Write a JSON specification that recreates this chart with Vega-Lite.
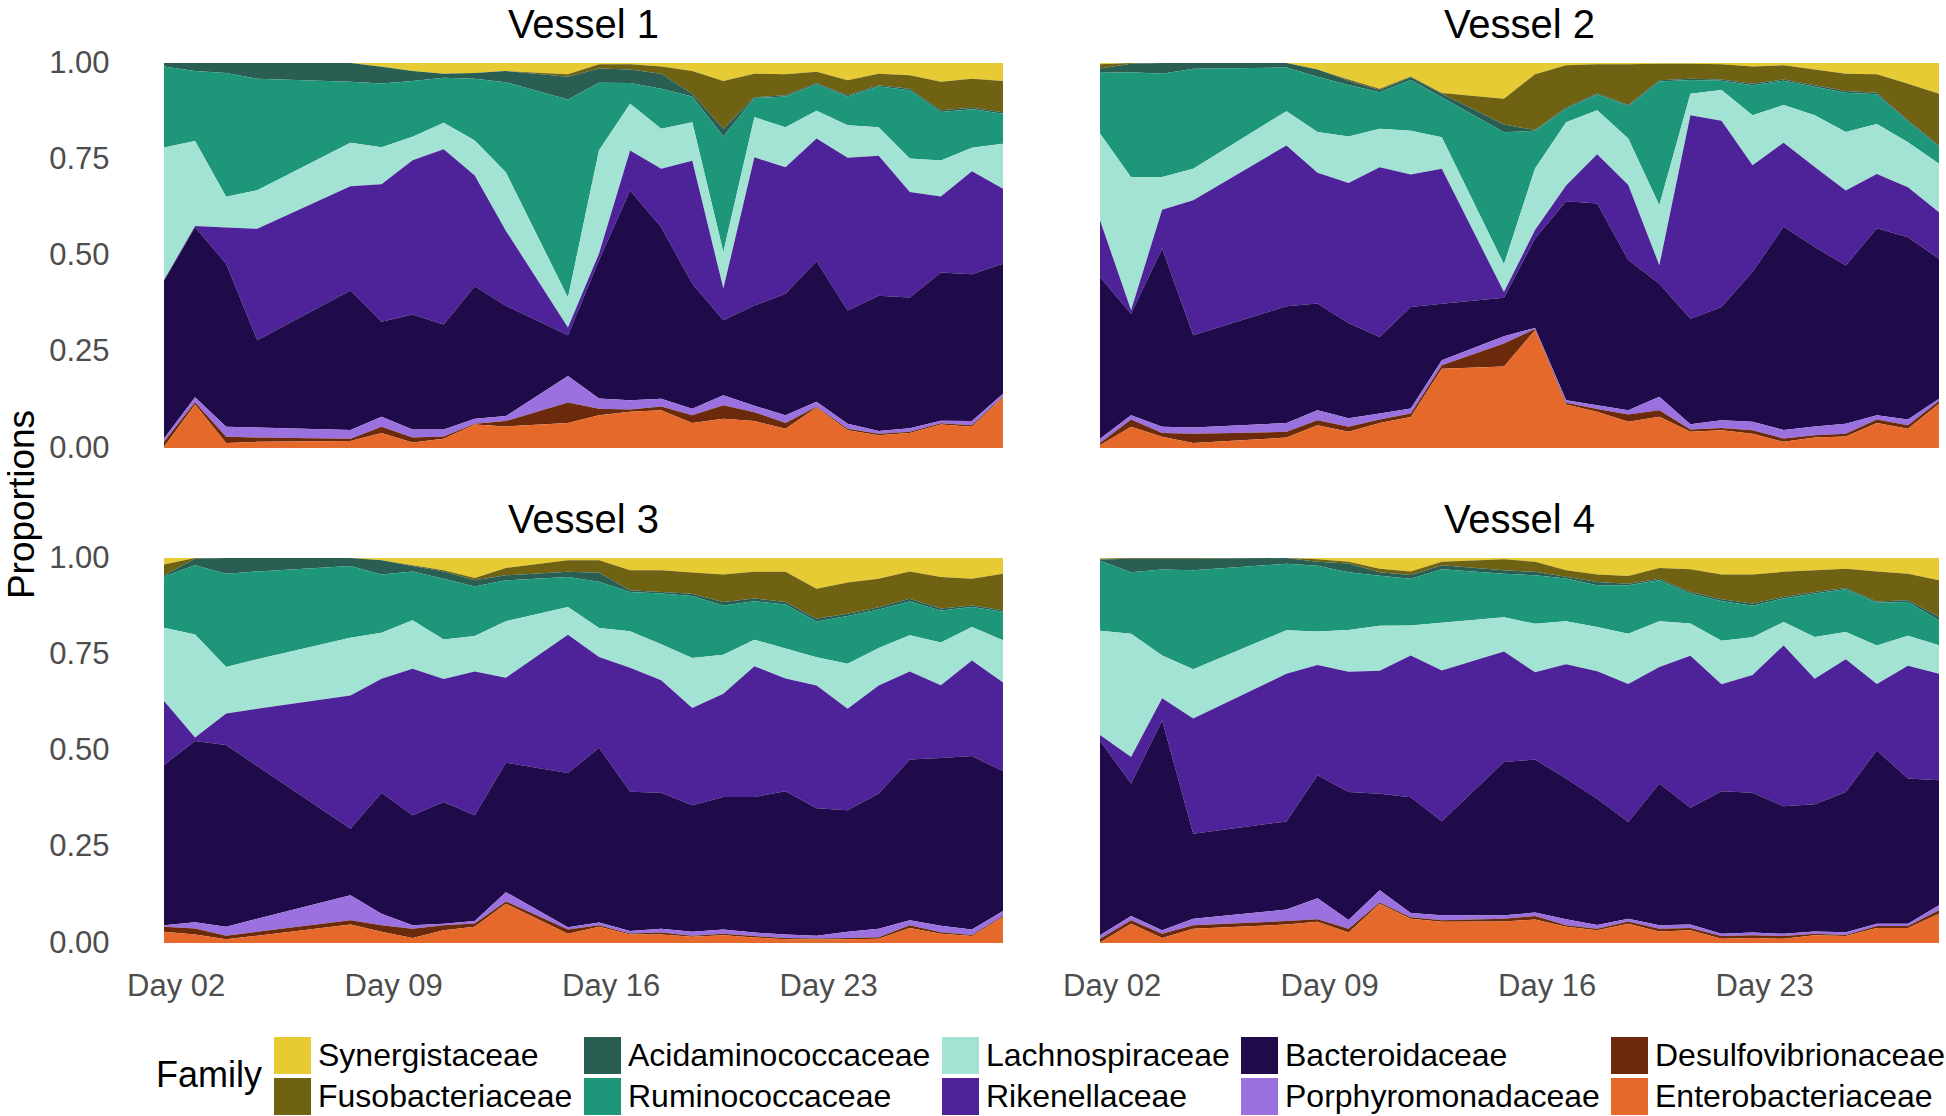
{
"$schema": "https://vega.github.io/schema/vega-lite/v6.json",
"padding": {"left": 3, "top": 5, "right": 0, "bottom": 0},
"background": "white",
"config": {"font": "Liberation Sans", "view": {"stroke": null}},
"data": {"values": [
{"vessel":"Vessel 1","day":1.625,"Synergistaceae":0,"Fusobacteriaceae":0,"Acidaminococcaceae":0.009,"Ruminococcaceae":0.211,"Lachnospiraceae":0.345,"Rikenellaceae":0.002,"Bacteroidaceae":0.410,"Porphyromonadaceae":0.009,"Desulfovibrionaceae":0.013,"Enterobacteriaceae":0.003},
{"vessel":"Vessel 1","day":2.625,"Synergistaceae":0,"Fusobacteriaceae":0,"Acidaminococcaceae":0.021,"Ruminococcaceae":0.182,"Lachnospiraceae":0.221,"Rikenellaceae":0.003,"Bacteroidaceae":0.442,"Porphyromonadaceae":0.013,"Desulfovibrionaceae":0.006,"Enterobacteriaceae":0.113},
{"vessel":"Vessel 1","day":3.625,"Synergistaceae":0,"Fusobacteriaceae":0,"Acidaminococcaceae":0.026,"Ruminococcaceae":0.322,"Lachnospiraceae":0.080,"Rikenellaceae":0.094,"Bacteroidaceae":0.424,"Porphyromonadaceae":0.026,"Desulfovibrionaceae":0.016,"Enterobacteriaceae":0.013},
{"vessel":"Vessel 1","day":4.625,"Synergistaceae":0,"Fusobacteriaceae":0,"Acidaminococcaceae":0.041,"Ruminococcaceae":0.290,"Lachnospiraceae":0.100,"Rikenellaceae":0.290,"Bacteroidaceae":0.227,"Porphyromonadaceae":0.026,"Desulfovibrionaceae":0.011,"Enterobacteriaceae":0.016},
{"vessel":"Vessel 1","day":7.625,"Synergistaceae":0,"Fusobacteriaceae":0,"Acidaminococcaceae":0.049,"Ruminococcaceae":0.158,"Lachnospiraceae":0.113,"Rikenellaceae":0.271,"Bacteroidaceae":0.362,"Porphyromonadaceae":0.023,"Desulfovibrionaceae":0.006,"Enterobacteriaceae":0.018},
{"vessel":"Vessel 1","day":8.625,"Synergistaceae":0.010,"Fusobacteriaceae":0,"Acidaminococcaceae":0.043,"Ruminococcaceae":0.166,"Lachnospiraceae":0.096,"Rikenellaceae":0.357,"Bacteroidaceae":0.247,"Porphyromonadaceae":0.026,"Desulfovibrionaceae":0.016,"Enterobacteriaceae":0.039},
{"vessel":"Vessel 1","day":9.625,"Synergistaceae":0.021,"Fusobacteriaceae":0,"Acidaminococcaceae":0.026,"Ruminococcaceae":0.145,"Lachnospiraceae":0.061,"Rikenellaceae":0.401,"Bacteroidaceae":0.299,"Porphyromonadaceae":0.021,"Desulfovibrionaceae":0.013,"Enterobacteriaceae":0.014},
{"vessel":"Vessel 1","day":10.625,"Synergistaceae":0.028,"Fusobacteriaceae":0,"Acidaminococcaceae":0.010,"Ruminococcaceae":0.117,"Lachnospiraceae":0.069,"Rikenellaceae":0.455,"Bacteroidaceae":0.273,"Porphyromonadaceae":0.018,"Desulfovibrionaceae":0.006,"Enterobacteriaceae":0.024},
{"vessel":"Vessel 1","day":11.625,"Synergistaceae":0.026,"Fusobacteriaceae":0,"Acidaminococcaceae":0.015,"Ruminococcaceae":0.160,"Lachnospiraceae":0.091,"Rikenellaceae":0.288,"Bacteroidaceae":0.344,"Porphyromonadaceae":0.013,"Desulfovibrionaceae":0.002,"Enterobacteriaceae":0.061},
{"vessel":"Vessel 1","day":12.625,"Synergistaceae":0.021,"Fusobacteriaceae":0,"Acidaminococcaceae":0.029,"Ruminococcaceae":0.234,"Lachnospiraceae":0.152,"Rikenellaceae":0.195,"Bacteroidaceae":0.287,"Porphyromonadaceae":0.013,"Desulfovibrionaceae":0.014,"Enterobacteriaceae":0.056},
{"vessel":"Vessel 1","day":14.625,"Synergistaceae":0.029,"Fusobacteriaceae":0.007,"Acidaminococcaceae":0.059,"Ruminococcaceae":0.514,"Lachnospiraceae":0.078,"Rikenellaceae":0.020,"Bacteroidaceae":0.106,"Porphyromonadaceae":0.069,"Desulfovibrionaceae":0.053,"Enterobacteriaceae":0.065},
{"vessel":"Vessel 1","day":15.625,"Synergistaceae":0.003,"Fusobacteriaceae":0.011,"Acidaminococcaceae":0.037,"Ruminococcaceae":0.175,"Lachnospiraceae":0.268,"Rikenellaceae":0.017,"Bacteroidaceae":0.359,"Porphyromonadaceae":0.026,"Desulfovibrionaceae":0.017,"Enterobacteriaceae":0.085},
{"vessel":"Vessel 1","day":16.625,"Synergistaceae":0.003,"Fusobacteriaceae":0.014,"Acidaminococcaceae":0.035,"Ruminococcaceae":0.054,"Lachnospiraceae":0.121,"Rikenellaceae":0.104,"Bacteroidaceae":0.545,"Porphyromonadaceae":0.024,"Desulfovibrionaceae":0.006,"Enterobacteriaceae":0.094},
{"vessel":"Vessel 1","day":17.625,"Synergistaceae":0.009,"Fusobacteriaceae":0.019,"Acidaminococcaceae":0.039,"Ruminococcaceae":0.104,"Lachnospiraceae":0.104,"Rikenellaceae":0.152,"Bacteroidaceae":0.446,"Porphyromonadaceae":0.020,"Desulfovibrionaceae":0.010,"Enterobacteriaceae":0.098},
{"vessel":"Vessel 1","day":18.625,"Synergistaceae":0.021,"Fusobacteriaceae":0.059,"Acidaminococcaceae":0.007,"Ruminococcaceae":0.067,"Lachnospiraceae":0.100,"Rikenellaceae":0.320,"Bacteroidaceae":0.325,"Porphyromonadaceae":0.017,"Desulfovibrionaceae":0.020,"Enterobacteriaceae":0.065},
{"vessel":"Vessel 1","day":19.625,"Synergistaceae":0.047,"Fusobacteriaceae":0.124,"Acidaminococcaceae":0.020,"Ruminococcaceae":0.300,"Lachnospiraceae":0.095,"Rikenellaceae":0.082,"Bacteroidaceae":0.195,"Porphyromonadaceae":0.026,"Desulfovibrionaceae":0.035,"Enterobacteriaceae":0.076},
{"vessel":"Vessel 1","day":20.625,"Synergistaceae":0.028,"Fusobacteriaceae":0.061,"Acidaminococcaceae":0.002,"Ruminococcaceae":0.050,"Lachnospiraceae":0.104,"Rikenellaceae":0.385,"Bacteroidaceae":0.260,"Porphyromonadaceae":0.017,"Desulfovibrionaceae":0.023,"Enterobacteriaceae":0.070},
{"vessel":"Vessel 1","day":21.625,"Synergistaceae":0.029,"Fusobacteriaceae":0.055,"Acidaminococcaceae":0.003,"Ruminococcaceae":0.080,"Lachnospiraceae":0.104,"Rikenellaceae":0.329,"Bacteroidaceae":0.316,"Porphyromonadaceae":0.020,"Desulfovibrionaceae":0.015,"Enterobacteriaceae":0.050},
{"vessel":"Vessel 1","day":22.625,"Synergistaceae":0.023,"Fusobacteriaceae":0.029,"Acidaminococcaceae":0.003,"Ruminococcaceae":0.069,"Lachnospiraceae":0.072,"Rikenellaceae":0.318,"Bacteroidaceae":0.366,"Porphyromonadaceae":0.013,"Desulfovibrionaceae":0.002,"Enterobacteriaceae":0.105},
{"vessel":"Vessel 1","day":23.625,"Synergistaceae":0.045,"Fusobacteriaceae":0.039,"Acidaminococcaceae":0.003,"Ruminococcaceae":0.075,"Lachnospiraceae":0.084,"Rikenellaceae":0.397,"Bacteroidaceae":0.294,"Porphyromonadaceae":0.013,"Desulfovibrionaceae":0.004,"Enterobacteriaceae":0.046},
{"vessel":"Vessel 1","day":24.625,"Synergistaceae":0.028,"Fusobacteriaceae":0.030,"Acidaminococcaceae":0.003,"Ruminococcaceae":0.106,"Lachnospiraceae":0.074,"Rikenellaceae":0.364,"Bacteroidaceae":0.352,"Porphyromonadaceae":0.007,"Desulfovibrionaceae":0.004,"Enterobacteriaceae":0.033},
{"vessel":"Vessel 1","day":25.625,"Synergistaceae":0.032,"Fusobacteriaceae":0.035,"Acidaminococcaceae":0.004,"Ruminococcaceae":0.177,"Lachnospiraceae":0.087,"Rikenellaceae":0.274,"Bacteroidaceae":0.340,"Porphyromonadaceae":0.009,"Desulfovibrionaceae":0.003,"Enterobacteriaceae":0.039},
{"vessel":"Vessel 1","day":26.625,"Synergistaceae":0.049,"Fusobacteriaceae":0.074,"Acidaminococcaceae":0.004,"Ruminococcaceae":0.126,"Lachnospiraceae":0.094,"Rikenellaceae":0.197,"Bacteroidaceae":0.385,"Porphyromonadaceae":0.007,"Desulfovibrionaceae":0.003,"Enterobacteriaceae":0.061},
{"vessel":"Vessel 1","day":27.625,"Synergistaceae":0.041,"Fusobacteriaceae":0.075,"Acidaminococcaceae":0.004,"Ruminococcaceae":0.100,"Lachnospiraceae":0.061,"Rikenellaceae":0.268,"Bacteroidaceae":0.381,"Porphyromonadaceae":0.011,"Desulfovibrionaceae":0.004,"Enterobacteriaceae":0.055},
{"vessel":"Vessel 1","day":28.625,"Synergistaceae":0.047,"Fusobacteriaceae":0.081,"Acidaminococcaceae":0.004,"Ruminococcaceae":0.078,"Lachnospiraceae":0.117,"Rikenellaceae":0.195,"Bacteroidaceae":0.338,"Porphyromonadaceae":0.007,"Desulfovibrionaceae":0.002,"Enterobacteriaceae":0.132},
{"vessel":"Vessel 2","day":1.625,"Synergistaceae":0.003,"Fusobacteriaceae":0.011,"Acidaminococcaceae":0.011,"Ruminococcaceae":0.158,"Lachnospiraceae":0.225,"Rikenellaceae":0.147,"Bacteroidaceae":0.420,"Porphyromonadaceae":0.011,"Desulfovibrionaceae":0.006,"Enterobacteriaceae":0.007},
{"vessel":"Vessel 2","day":2.625,"Synergistaceae":0,"Fusobacteriaceae":0.002,"Acidaminococcaceae":0.022,"Ruminococcaceae":0.273,"Lachnospiraceae":0.346,"Rikenellaceae":0.009,"Bacteroidaceae":0.264,"Porphyromonadaceae":0.011,"Desulfovibrionaceae":0.019,"Enterobacteriaceae":0.055},
{"vessel":"Vessel 2","day":3.625,"Synergistaceae":0,"Fusobacteriaceae":0,"Acidaminococcaceae":0.028,"Ruminococcaceae":0.268,"Lachnospiraceae":0.085,"Rikenellaceae":0.101,"Bacteroidaceae":0.463,"Porphyromonadaceae":0.016,"Desulfovibrionaceae":0.010,"Enterobacteriaceae":0.029},
{"vessel":"Vessel 2","day":4.625,"Synergistaceae":0,"Fusobacteriaceae":0,"Acidaminococcaceae":0.015,"Ruminococcaceae":0.260,"Lachnospiraceae":0.082,"Rikenellaceae":0.351,"Bacteroidaceae":0.240,"Porphyromonadaceae":0.016,"Desulfovibrionaceae":0.024,"Enterobacteriaceae":0.013},
{"vessel":"Vessel 2","day":7.625,"Synergistaceae":0,"Fusobacteriaceae":0,"Acidaminococcaceae":0.012,"Ruminococcaceae":0.113,"Lachnospiraceae":0.089,"Rikenellaceae":0.418,"Bacteroidaceae":0.303,"Porphyromonadaceae":0.023,"Desulfovibrionaceae":0.015,"Enterobacteriaceae":0.027},
{"vessel":"Vessel 2","day":8.625,"Synergistaceae":0.017,"Fusobacteriaceae":0,"Acidaminococcaceae":0.019,"Ruminococcaceae":0.143,"Lachnospiraceae":0.106,"Rikenellaceae":0.339,"Bacteroidaceae":0.277,"Porphyromonadaceae":0.026,"Desulfovibrionaceae":0.013,"Enterobacteriaceae":0.059},
{"vessel":"Vessel 2","day":9.625,"Synergistaceae":0.043,"Fusobacteriaceae":0.003,"Acidaminococcaceae":0.011,"Ruminococcaceae":0.134,"Lachnospiraceae":0.121,"Rikenellaceae":0.364,"Bacteroidaceae":0.247,"Porphyromonadaceae":0.022,"Desulfovibrionaceae":0.013,"Enterobacteriaceae":0.042},
{"vessel":"Vessel 2","day":10.625,"Synergistaceae":0.067,"Fusobacteriaceae":0.003,"Acidaminococcaceae":0.006,"Ruminococcaceae":0.095,"Lachnospiraceae":0.100,"Rikenellaceae":0.442,"Bacteroidaceae":0.199,"Porphyromonadaceae":0.016,"Desulfovibrionaceae":0.009,"Enterobacteriaceae":0.065},
{"vessel":"Vessel 2","day":11.625,"Synergistaceae":0.035,"Fusobacteriaceae":0.002,"Acidaminococcaceae":0.007,"Ruminococcaceae":0.132,"Lachnospiraceae":0.114,"Rikenellaceae":0.345,"Bacteroidaceae":0.264,"Porphyromonadaceae":0.013,"Desulfovibrionaceae":0.009,"Enterobacteriaceae":0.081},
{"vessel":"Vessel 2","day":12.625,"Synergistaceae":0.078,"Fusobacteriaceae":0.002,"Acidaminococcaceae":0.009,"Ruminococcaceae":0.104,"Lachnospiraceae":0.082,"Rikenellaceae":0.351,"Bacteroidaceae":0.147,"Porphyromonadaceae":0.013,"Desulfovibrionaceae":0.009,"Enterobacteriaceae":0.206},
{"vessel":"Vessel 2","day":14.625,"Synergistaceae":0.093,"Fusobacteriaceae":0.067,"Acidaminococcaceae":0.020,"Ruminococcaceae":0.344,"Lachnospiraceae":0.072,"Rikenellaceae":0.015,"Bacteroidaceae":0.100,"Porphyromonadaceae":0.019,"Desulfovibrionaceae":0.060,"Enterobacteriaceae":0.212},
{"vessel":"Vessel 2","day":15.625,"Synergistaceae":0.029,"Fusobacteriaceae":0.145,"Acidaminococcaceae":0.002,"Ruminococcaceae":0.098,"Lachnospiraceae":0.160,"Rikenellaceae":0.022,"Bacteroidaceae":0.232,"Porphyromonadaceae":0.003,"Desulfovibrionaceae":0.003,"Enterobacteriaceae":0.306},
{"vessel":"Vessel 2","day":16.625,"Synergistaceae":0.006,"Fusobacteriaceae":0.110,"Acidaminococcaceae":0.003,"Ruminococcaceae":0.035,"Lachnospiraceae":0.165,"Rikenellaceae":0.041,"Bacteroidaceae":0.518,"Porphyromonadaceae":0.006,"Desulfovibrionaceae":0.005,"Enterobacteriaceae":0.113},
{"vessel":"Vessel 2","day":17.625,"Synergistaceae":0.003,"Fusobacteriaceae":0.076,"Acidaminococcaceae":0.003,"Ruminococcaceae":0.041,"Lachnospiraceae":0.114,"Rikenellaceae":0.128,"Bacteroidaceae":0.524,"Porphyromonadaceae":0.010,"Desulfovibrionaceae":0.007,"Enterobacteriaceae":0.094},
{"vessel":"Vessel 2","day":18.625,"Synergistaceae":0.003,"Fusobacteriaceae":0.106,"Acidaminococcaceae":0.003,"Ruminococcaceae":0.084,"Lachnospiraceae":0.121,"Rikenellaceae":0.195,"Bacteroidaceae":0.390,"Porphyromonadaceae":0.011,"Desulfovibrionaceae":0.019,"Enterobacteriaceae":0.068},
{"vessel":"Vessel 2","day":19.625,"Synergistaceae":0.002,"Fusobacteriaceae":0.043,"Acidaminococcaceae":0.003,"Ruminococcaceae":0.322,"Lachnospiraceae":0.156,"Rikenellaceae":0.048,"Bacteroidaceae":0.294,"Porphyromonadaceae":0.035,"Desulfovibrionaceae":0.017,"Enterobacteriaceae":0.081},
{"vessel":"Vessel 2","day":20.625,"Synergistaceae":0.002,"Fusobacteriaceae":0.039,"Acidaminococcaceae":0.003,"Ruminococcaceae":0.036,"Lachnospiraceae":0.056,"Rikenellaceae":0.528,"Bacteroidaceae":0.274,"Porphyromonadaceae":0.014,"Desulfovibrionaceae":0.006,"Enterobacteriaceae":0.042},
{"vessel":"Vessel 2","day":21.625,"Synergistaceae":0.003,"Fusobacteriaceae":0.040,"Acidaminococcaceae":0.003,"Ruminococcaceae":0.024,"Lachnospiraceae":0.080,"Rikenellaceae":0.483,"Bacteroidaceae":0.294,"Porphyromonadaceae":0.020,"Desulfovibrionaceae":0.006,"Enterobacteriaceae":0.046},
{"vessel":"Vessel 2","day":22.625,"Synergistaceae":0.009,"Fusobacteriaceae":0.045,"Acidaminococcaceae":0.004,"Ruminococcaceae":0.078,"Lachnospiraceae":0.130,"Rikenellaceae":0.277,"Bacteroidaceae":0.390,"Porphyromonadaceae":0.022,"Desulfovibrionaceae":0.009,"Enterobacteriaceae":0.037},
{"vessel":"Vessel 2","day":23.625,"Synergistaceae":0.006,"Fusobacteriaceae":0.037,"Acidaminococcaceae":0.003,"Ruminococcaceae":0.063,"Lachnospiraceae":0.098,"Rikenellaceae":0.218,"Bacteroidaceae":0.528,"Porphyromonadaceae":0.022,"Desulfovibrionaceae":0.009,"Enterobacteriaceae":0.016},
{"vessel":"Vessel 2","day":24.625,"Synergistaceae":0.017,"Fusobacteriaceae":0.041,"Acidaminococcaceae":0.004,"Ruminococcaceae":0.074,"Lachnospiraceae":0.134,"Rikenellaceae":0.208,"Bacteroidaceae":0.466,"Porphyromonadaceae":0.023,"Desulfovibrionaceae":0.006,"Enterobacteriaceae":0.027},
{"vessel":"Vessel 2","day":25.625,"Synergistaceae":0.028,"Fusobacteriaceae":0.045,"Acidaminococcaceae":0.004,"Ruminococcaceae":0.102,"Lachnospiraceae":0.152,"Rikenellaceae":0.195,"Bacteroidaceae":0.411,"Porphyromonadaceae":0.026,"Desulfovibrionaceae":0.007,"Enterobacteriaceae":0.030},
{"vessel":"Vessel 2","day":26.625,"Synergistaceae":0.029,"Fusobacteriaceae":0.048,"Acidaminococcaceae":0.004,"Ruminococcaceae":0.077,"Lachnospiraceae":0.130,"Rikenellaceae":0.141,"Bacteroidaceae":0.485,"Porphyromonadaceae":0.011,"Desulfovibrionaceae":0.009,"Enterobacteriaceae":0.065},
{"vessel":"Vessel 2","day":27.625,"Synergistaceae":0.054,"Fusobacteriaceae":0.095,"Acidaminococcaceae":0.003,"Ruminococcaceae":0.054,"Lachnospiraceae":0.117,"Rikenellaceae":0.130,"Bacteroidaceae":0.474,"Porphyromonadaceae":0.015,"Desulfovibrionaceae":0.009,"Enterobacteriaceae":0.050},
{"vessel":"Vessel 2","day":28.625,"Synergistaceae":0.080,"Fusobacteriaceae":0.134,"Acidaminococcaceae":0.003,"Ruminococcaceae":0.045,"Lachnospiraceae":0.126,"Rikenellaceae":0.121,"Bacteroidaceae":0.364,"Porphyromonadaceae":0.006,"Desulfovibrionaceae":0.007,"Enterobacteriaceae":0.115},
{"vessel":"Vessel 3","day":1.625,"Synergistaceae":0.017,"Fusobacteriaceae":0.028,"Acidaminococcaceae":0.003,"Ruminococcaceae":0.133,"Lachnospiraceae":0.190,"Rikenellaceae":0.166,"Bacteroidaceae":0.416,"Porphyromonadaceae":0.004,"Desulfovibrionaceae":0.013,"Enterobacteriaceae":0.029},
{"vessel":"Vessel 3","day":2.625,"Synergistaceae":0,"Fusobacteriaceae":0.002,"Acidaminococcaceae":0.017,"Ruminococcaceae":0.180,"Lachnospiraceae":0.268,"Rikenellaceae":0.009,"Bacteroidaceae":0.471,"Porphyromonadaceae":0.016,"Desulfovibrionaceae":0.016,"Enterobacteriaceae":0.022},
{"vessel":"Vessel 3","day":3.625,"Synergistaceae":0,"Fusobacteriaceae":0,"Acidaminococcaceae":0.041,"Ruminococcaceae":0.242,"Lachnospiraceae":0.121,"Rikenellaceae":0.082,"Bacteroidaceae":0.472,"Porphyromonadaceae":0.023,"Desulfovibrionaceae":0.009,"Enterobacteriaceae":0.010},
{"vessel":"Vessel 3","day":4.625,"Synergistaceae":0,"Fusobacteriaceae":0,"Acidaminococcaceae":0.035,"Ruminococcaceae":0.228,"Lachnospiraceae":0.129,"Rikenellaceae":0.149,"Bacteroidaceae":0.397,"Porphyromonadaceae":0.034,"Desulfovibrionaceae":0.010,"Enterobacteriaceae":0.019},
{"vessel":"Vessel 3","day":7.625,"Synergistaceae":0,"Fusobacteriaceae":0,"Acidaminococcaceae":0.021,"Ruminococcaceae":0.186,"Lachnospiraceae":0.150,"Rikenellaceae":0.346,"Bacteroidaceae":0.173,"Porphyromonadaceae":0.065,"Desulfovibrionaceae":0.011,"Enterobacteriaceae":0.048},
{"vessel":"Vessel 3","day":8.625,"Synergistaceae":0.006,"Fusobacteriaceae":0,"Acidaminococcaceae":0.037,"Ruminococcaceae":0.151,"Lachnospiraceae":0.119,"Rikenellaceae":0.296,"Bacteroidaceae":0.314,"Porphyromonadaceae":0.030,"Desulfovibrionaceae":0.017,"Enterobacteriaceae":0.029},
{"vessel":"Vessel 3","day":9.625,"Synergistaceae":0.019,"Fusobacteriaceae":0.002,"Acidaminococcaceae":0.014,"Ruminococcaceae":0.127,"Lachnospiraceae":0.126,"Rikenellaceae":0.381,"Bacteroidaceae":0.286,"Porphyromonadaceae":0.009,"Desulfovibrionaceae":0.024,"Enterobacteriaceae":0.013},
{"vessel":"Vessel 3","day":10.625,"Synergistaceae":0.032,"Fusobacteriaceae":0.003,"Acidaminococcaceae":0.019,"Ruminococcaceae":0.158,"Lachnospiraceae":0.102,"Rikenellaceae":0.320,"Bacteroidaceae":0.316,"Porphyromonadaceae":0.004,"Desulfovibrionaceae":0.013,"Enterobacteriaceae":0.033},
{"vessel":"Vessel 3","day":11.625,"Synergistaceae":0.052,"Fusobacteriaceae":0.006,"Acidaminococcaceae":0.016,"Ruminococcaceae":0.129,"Lachnospiraceae":0.092,"Rikenellaceae":0.374,"Bacteroidaceae":0.275,"Porphyromonadaceae":0.006,"Desulfovibrionaceae":0.009,"Enterobacteriaceae":0.042},
{"vessel":"Vessel 3","day":12.625,"Synergistaceae":0.026,"Fusobacteriaceae":0.019,"Acidaminococcaceae":0.013,"Ruminococcaceae":0.106,"Lachnospiraceae":0.147,"Rikenellaceae":0.220,"Bacteroidaceae":0.336,"Porphyromonadaceae":0.024,"Desulfovibrionaceae":0.006,"Enterobacteriaceae":0.102},
{"vessel":"Vessel 3","day":14.625,"Synergistaceae":0.006,"Fusobacteriaceae":0.030,"Acidaminococcaceae":0.013,"Ruminococcaceae":0.078,"Lachnospiraceae":0.072,"Rikenellaceae":0.359,"Bacteroidaceae":0.400,"Porphyromonadaceae":0.006,"Desulfovibrionaceae":0.011,"Enterobacteriaceae":0.024},
{"vessel":"Vessel 3","day":15.625,"Synergistaceae":0.006,"Fusobacteriaceae":0.032,"Acidaminococcaceae":0.024,"Ruminococcaceae":0.120,"Lachnospiraceae":0.075,"Rikenellaceae":0.236,"Bacteroidaceae":0.454,"Porphyromonadaceae":0.007,"Desulfovibrionaceae":0.004,"Enterobacteriaceae":0.042},
{"vessel":"Vessel 3","day":16.625,"Synergistaceae":0.032,"Fusobacteriaceae":0.052,"Acidaminococcaceae":0.004,"Ruminococcaceae":0.102,"Lachnospiraceae":0.095,"Rikenellaceae":0.322,"Bacteroidaceae":0.362,"Porphyromonadaceae":0.006,"Desulfovibrionaceae":0.003,"Enterobacteriaceae":0.022},
{"vessel":"Vessel 3","day":17.625,"Synergistaceae":0.032,"Fusobacteriaceae":0.056,"Acidaminococcaceae":0.004,"Ruminococcaceae":0.132,"Lachnospiraceae":0.093,"Rikenellaceae":0.292,"Bacteroidaceae":0.353,"Porphyromonadaceae":0.010,"Desulfovibrionaceae":0.005,"Enterobacteriaceae":0.022},
{"vessel":"Vessel 3","day":18.625,"Synergistaceae":0.038,"Fusobacteriaceae":0.055,"Acidaminococcaceae":0.006,"Ruminococcaceae":0.161,"Lachnospiraceae":0.130,"Rikenellaceae":0.253,"Bacteroidaceae":0.329,"Porphyromonadaceae":0.010,"Desulfovibrionaceae":0.003,"Enterobacteriaceae":0.016},
{"vessel":"Vessel 3","day":19.625,"Synergistaceae":0.043,"Fusobacteriaceae":0.071,"Acidaminococcaceae":0.009,"Ruminococcaceae":0.128,"Lachnospiraceae":0.101,"Rikenellaceae":0.268,"Bacteroidaceae":0.344,"Porphyromonadaceae":0.011,"Desulfovibrionaceae":0.004,"Enterobacteriaceae":0.020},
{"vessel":"Vessel 3","day":20.625,"Synergistaceae":0.036,"Fusobacteriaceae":0.069,"Acidaminococcaceae":0.007,"Ruminococcaceae":0.100,"Lachnospiraceae":0.069,"Rikenellaceae":0.339,"Bacteroidaceae":0.352,"Porphyromonadaceae":0.009,"Desulfovibrionaceae":0.004,"Enterobacteriaceae":0.014},
{"vessel":"Vessel 3","day":21.625,"Synergistaceae":0.036,"Fusobacteriaceae":0.078,"Acidaminococcaceae":0.007,"Ruminococcaceae":0.114,"Lachnospiraceae":0.078,"Rikenellaceae":0.293,"Bacteroidaceae":0.372,"Porphyromonadaceae":0.009,"Desulfovibrionaceae":0.003,"Enterobacteriaceae":0.010},
{"vessel":"Vessel 3","day":22.625,"Synergistaceae":0.080,"Fusobacteriaceae":0.078,"Acidaminococcaceae":0.007,"Ruminococcaceae":0.093,"Lachnospiraceae":0.074,"Rikenellaceae":0.319,"Bacteroidaceae":0.332,"Porphyromonadaceae":0.007,"Desulfovibrionaceae":0.003,"Enterobacteriaceae":0.009},
{"vessel":"Vessel 3","day":23.625,"Synergistaceae":0.064,"Fusobacteriaceae":0.081,"Acidaminococcaceae":0.006,"Ruminococcaceae":0.124,"Lachnospiraceae":0.117,"Rikenellaceae":0.264,"Bacteroidaceae":0.316,"Porphyromonadaceae":0.016,"Desulfovibrionaceae":0.003,"Enterobacteriaceae":0.010},
{"vessel":"Vessel 3","day":24.625,"Synergistaceae":0.054,"Fusobacteriaceae":0.074,"Acidaminococcaceae":0.006,"Ruminococcaceae":0.100,"Lachnospiraceae":0.097,"Rikenellaceae":0.281,"Bacteroidaceae":0.351,"Porphyromonadaceae":0.022,"Desulfovibrionaceae":0.004,"Enterobacteriaceae":0.011},
{"vessel":"Vessel 3","day":25.625,"Synergistaceae":0.035,"Fusobacteriaceae":0.071,"Acidaminococcaceae":0.007,"Ruminococcaceae":0.088,"Lachnospiraceae":0.094,"Rikenellaceae":0.229,"Bacteroidaceae":0.418,"Porphyromonadaceae":0.013,"Desulfovibrionaceae":0.007,"Enterobacteriaceae":0.039},
{"vessel":"Vessel 3","day":26.625,"Synergistaceae":0.049,"Fusobacteriaceae":0.082,"Acidaminococcaceae":0.005,"Ruminococcaceae":0.083,"Lachnospiraceae":0.111,"Rikenellaceae":0.189,"Bacteroidaceae":0.435,"Porphyromonadaceae":0.017,"Desulfovibrionaceae":0.004,"Enterobacteriaceae":0.024},
{"vessel":"Vessel 3","day":27.625,"Synergistaceae":0.054,"Fusobacteriaceae":0.069,"Acidaminococcaceae":0.004,"Ruminococcaceae":0.052,"Lachnospiraceae":0.087,"Rikenellaceae":0.248,"Bacteroidaceae":0.450,"Porphyromonadaceae":0.014,"Desulfovibrionaceae":0.003,"Enterobacteriaceae":0.018},
{"vessel":"Vessel 3","day":28.625,"Synergistaceae":0.041,"Fusobacteriaceae":0.095,"Acidaminococcaceae":0.004,"Ruminococcaceae":0.074,"Lachnospiraceae":0.110,"Rikenellaceae":0.230,"Bacteroidaceae":0.364,"Porphyromonadaceae":0.012,"Desulfovibrionaceae":0.003,"Enterobacteriaceae":0.068},
{"vessel":"Vessel 4","day":1.625,"Synergistaceae":0.002,"Fusobacteriaceae":0.002,"Acidaminococcaceae":0.003,"Ruminococcaceae":0.182,"Lachnospiraceae":0.271,"Rikenellaceae":0.015,"Bacteroidaceae":0.506,"Porphyromonadaceae":0.009,"Desulfovibrionaceae":0.010,"Enterobacteriaceae":0.001},
{"vessel":"Vessel 4","day":2.625,"Synergistaceae":0,"Fusobacteriaceae":0.002,"Acidaminococcaceae":0.035,"Ruminococcaceae":0.160,"Lachnospiraceae":0.320,"Rikenellaceae":0.069,"Bacteroidaceae":0.344,"Porphyromonadaceae":0.011,"Desulfovibrionaceae":0.009,"Enterobacteriaceae":0.050},
{"vessel":"Vessel 4","day":3.625,"Synergistaceae":0,"Fusobacteriaceae":0.002,"Acidaminococcaceae":0.028,"Ruminococcaceae":0.223,"Lachnospiraceae":0.111,"Rikenellaceae":0.058,"Bacteroidaceae":0.545,"Porphyromonadaceae":0.009,"Desulfovibrionaceae":0.011,"Enterobacteriaceae":0.013},
{"vessel":"Vessel 4","day":4.625,"Synergistaceae":0,"Fusobacteriaceae":0.002,"Acidaminococcaceae":0.030,"Ruminococcaceae":0.257,"Lachnospiraceae":0.128,"Rikenellaceae":0.299,"Bacteroidaceae":0.221,"Porphyromonadaceae":0.017,"Desulfovibrionaceae":0.009,"Enterobacteriaceae":0.037},
{"vessel":"Vessel 4","day":7.625,"Synergistaceae":0,"Fusobacteriaceae":0,"Acidaminococcaceae":0.015,"Ruminococcaceae":0.173,"Lachnospiraceae":0.113,"Rikenellaceae":0.384,"Bacteroidaceae":0.229,"Porphyromonadaceae":0.030,"Desulfovibrionaceae":0.009,"Enterobacteriaceae":0.048},
{"vessel":"Vessel 4","day":8.625,"Synergistaceae":0.003,"Fusobacteriaceae":0.007,"Acidaminococcaceae":0.010,"Ruminococcaceae":0.171,"Lachnospiraceae":0.087,"Rikenellaceae":0.286,"Bacteroidaceae":0.320,"Porphyromonadaceae":0.054,"Desulfovibrionaceae":0.007,"Enterobacteriaceae":0.055},
{"vessel":"Vessel 4","day":9.625,"Synergistaceae":0.010,"Fusobacteriaceae":0.004,"Acidaminococcaceae":0.023,"Ruminococcaceae":0.150,"Lachnospiraceae":0.108,"Rikenellaceae":0.312,"Bacteroidaceae":0.332,"Porphyromonadaceae":0.023,"Desulfovibrionaceae":0.010,"Enterobacteriaceae":0.027},
{"vessel":"Vessel 4","day":10.625,"Synergistaceae":0.028,"Fusobacteriaceae":0.009,"Acidaminococcaceae":0.009,"Ruminococcaceae":0.130,"Lachnospiraceae":0.117,"Rikenellaceae":0.320,"Bacteroidaceae":0.251,"Porphyromonadaceae":0.032,"Desulfovibrionaceae":0.003,"Enterobacteriaceae":0.102},
{"vessel":"Vessel 4","day":11.625,"Synergistaceae":0.035,"Fusobacteriaceae":0.009,"Acidaminococcaceae":0.010,"Ruminococcaceae":0.121,"Lachnospiraceae":0.078,"Rikenellaceae":0.368,"Bacteroidaceae":0.300,"Porphyromonadaceae":0.011,"Desulfovibrionaceae":0.004,"Enterobacteriaceae":0.063},
{"vessel":"Vessel 4","day":12.625,"Synergistaceae":0.010,"Fusobacteriaceae":0.009,"Acidaminococcaceae":0.010,"Ruminococcaceae":0.139,"Lachnospiraceae":0.124,"Rikenellaceae":0.392,"Bacteroidaceae":0.244,"Porphyromonadaceae":0.013,"Desulfovibrionaceae":0.004,"Enterobacteriaceae":0.055},
{"vessel":"Vessel 4","day":14.625,"Synergistaceae":0.003,"Fusobacteriaceae":0.029,"Acidaminococcaceae":0.009,"Ruminococcaceae":0.113,"Lachnospiraceae":0.089,"Rikenellaceae":0.287,"Bacteroidaceae":0.398,"Porphyromonadaceae":0.009,"Desulfovibrionaceae":0.007,"Enterobacteriaceae":0.056},
{"vessel":"Vessel 4","day":15.625,"Synergistaceae":0.010,"Fusobacteriaceae":0.026,"Acidaminococcaceae":0.009,"Ruminococcaceae":0.126,"Lachnospiraceae":0.126,"Rikenellaceae":0.227,"Bacteroidaceae":0.398,"Porphyromonadaceae":0.009,"Desulfovibrionaceae":0.009,"Enterobacteriaceae":0.061},
{"vessel":"Vessel 4","day":16.625,"Synergistaceae":0.032,"Fusobacteriaceae":0.017,"Acidaminococcaceae":0.004,"Ruminococcaceae":0.111,"Lachnospiraceae":0.112,"Rikenellaceae":0.297,"Bacteroidaceae":0.365,"Porphyromonadaceae":0.016,"Desulfovibrionaceae":0.004,"Enterobacteriaceae":0.042},
{"vessel":"Vessel 4","day":17.625,"Synergistaceae":0.043,"Fusobacteriaceae":0.019,"Acidaminococcaceae":0.009,"Ruminococcaceae":0.108,"Lachnospiraceae":0.115,"Rikenellaceae":0.331,"Bacteroidaceae":0.327,"Porphyromonadaceae":0.010,"Desulfovibrionaceae":0.004,"Enterobacteriaceae":0.033},
{"vessel":"Vessel 4","day":18.625,"Synergistaceae":0.047,"Fusobacteriaceae":0.020,"Acidaminococcaceae":0.004,"Ruminococcaceae":0.126,"Lachnospiraceae":0.130,"Rikenellaceae":0.359,"Bacteroidaceae":0.251,"Porphyromonadaceae":0.007,"Desulfovibrionaceae":0.006,"Enterobacteriaceae":0.050},
{"vessel":"Vessel 4","day":19.625,"Synergistaceae":0.026,"Fusobacteriaceae":0.028,"Acidaminococcaceae":0.004,"Ruminococcaceae":0.106,"Lachnospiraceae":0.119,"Rikenellaceae":0.303,"Bacteroidaceae":0.368,"Porphyromonadaceae":0.009,"Desulfovibrionaceae":0.007,"Enterobacteriaceae":0.030},
{"vessel":"Vessel 4","day":20.625,"Synergistaceae":0.029,"Fusobacteriaceae":0.059,"Acidaminococcaceae":0.004,"Ruminococcaceae":0.078,"Lachnospiraceae":0.084,"Rikenellaceae":0.395,"Bacteroidaceae":0.303,"Porphyromonadaceae":0.009,"Desulfovibrionaceae":0.006,"Enterobacteriaceae":0.033},
{"vessel":"Vessel 4","day":21.625,"Synergistaceae":0.043,"Fusobacteriaceae":0.064,"Acidaminococcaceae":0.005,"Ruminococcaceae":0.103,"Lachnospiraceae":0.113,"Rikenellaceae":0.278,"Bacteroidaceae":0.370,"Porphyromonadaceae":0.006,"Desulfovibrionaceae":0.007,"Enterobacteriaceae":0.011},
{"vessel":"Vessel 4","day":22.625,"Synergistaceae":0.043,"Fusobacteriaceae":0.075,"Acidaminococcaceae":0.006,"Ruminococcaceae":0.082,"Lachnospiraceae":0.098,"Rikenellaceae":0.306,"Bacteroidaceae":0.363,"Porphyromonadaceae":0.007,"Desulfovibrionaceae":0.007,"Enterobacteriaceae":0.013},
{"vessel":"Vessel 4","day":23.625,"Synergistaceae":0.036,"Fusobacteriaceae":0.065,"Acidaminococcaceae":0.004,"Ruminococcaceae":0.061,"Lachnospiraceae":0.061,"Rikenellaceae":0.418,"Bacteroidaceae":0.331,"Porphyromonadaceae":0.006,"Desulfovibrionaceae":0.007,"Enterobacteriaceae":0.011},
{"vessel":"Vessel 4","day":24.625,"Synergistaceae":0.032,"Fusobacteriaceae":0.056,"Acidaminococcaceae":0.004,"Ruminococcaceae":0.113,"Lachnospiraceae":0.108,"Rikenellaceae":0.326,"Bacteroidaceae":0.330,"Porphyromonadaceae":0.006,"Desulfovibrionaceae":0.004,"Enterobacteriaceae":0.020},
{"vessel":"Vessel 4","day":25.625,"Synergistaceae":0.028,"Fusobacteriaceae":0.050,"Acidaminococcaceae":0.003,"Ruminococcaceae":0.111,"Lachnospiraceae":0.071,"Rikenellaceae":0.345,"Bacteroidaceae":0.364,"Porphyromonadaceae":0.007,"Desulfovibrionaceae":0.003,"Enterobacteriaceae":0.018},
{"vessel":"Vessel 4","day":26.625,"Synergistaceae":0.035,"Fusobacteriaceae":0.078,"Acidaminococcaceae":0.003,"Ruminococcaceae":0.111,"Lachnospiraceae":0.100,"Rikenellaceae":0.173,"Bacteroidaceae":0.450,"Porphyromonadaceae":0.006,"Desulfovibrionaceae":0.005,"Enterobacteriaceae":0.039},
{"vessel":"Vessel 4","day":27.625,"Synergistaceae":0.041,"Fusobacteriaceae":0.069,"Acidaminococcaceae":0.004,"Ruminococcaceae":0.088,"Lachnospiraceae":0.078,"Rikenellaceae":0.293,"Bacteroidaceae":0.377,"Porphyromonadaceae":0.006,"Desulfovibrionaceae":0.005,"Enterobacteriaceae":0.039},
{"vessel":"Vessel 4","day":28.625,"Synergistaceae":0.058,"Fusobacteriaceae":0.095,"Acidaminococcaceae":0.009,"Ruminococcaceae":0.065,"Lachnospiraceae":0.074,"Rikenellaceae":0.277,"Bacteroidaceae":0.325,"Porphyromonadaceae":0.013,"Desulfovibrionaceae":0.009,"Enterobacteriaceae":0.076}
]},
"transform": [
{"fold": ["Synergistaceae","Fusobacteriaceae","Acidaminococcaceae","Ruminococcaceae","Lachnospiraceae","Rikenellaceae","Bacteroidaceae","Porphyromonadaceae","Desulfovibrionaceae","Enterobacteriaceae"], "as": ["Family","Proportion"]},
{"calculate": "indexof(['Enterobacteriaceae','Desulfovibrionaceae','Porphyromonadaceae','Bacteroidaceae','Rikenellaceae','Lachnospiraceae','Ruminococcaceae','Acidaminococcaceae','Fusobacteriaceae','Synergistaceae'], datum.Family)", "as": "stackOrder"}
],
"title": {"text": "Proportions", "orient": "left", "anchor": "middle", "fontSize": 37, "fontWeight": "normal", "color": "black", "offset": 7, "dx": 56},
"facet": {"field": "vessel", "type": "nominal", "header": {"title": null, "labelFontSize": 40, "labelColor": "black", "labelPadding": 17}},
"columns": 2,
"spacing": {"row": 52, "column": 97},
"spec": {
"width": 839, "height": 385,
"mark": {"type": "area", "interpolate": "linear"},
"encoding": {
"x": {"field": "day", "type": "quantitative", "scale": {"domain": [1.625, 28.625], "nice": false, "zero": false},
 "axis": {"values": [2, 9, 16, 23], "labelExpr": "'Day ' + (datum.value < 10 ? '0' : '') + datum.value", "title": null, "grid": false, "ticks": false, "domain": false, "labelFontSize": 31, "labelColor": "#4D4D4D", "labelPadding": 28, "labelFlush": false}},
"y": {"field": "Proportion", "type": "quantitative", "stack": "normalize", "scale": {"domain": [0, 1], "nice": false},
 "axis": {"values": [0, 0.25, 0.5, 0.75, 1], "labelExpr": "format(datum.value, '.2f')", "title": null, "grid": false, "ticks": false, "domain": false, "labelFontSize": 31, "labelColor": "#4D4D4D", "labelPadding": 55, "labelFlush": false}},
"color": {"field": "Family", "type": "nominal",
 "scale": {"domain": ["Synergistaceae","Acidaminococcaceae","Lachnospiraceae","Bacteroidaceae","Desulfovibrionaceae","Fusobacteriaceae","Ruminococcaceae","Rikenellaceae","Porphyromonadaceae","Enterobacteriaceae"],
  "range": ["#E6CB35","#2A5E53","#A2E3D3","#1F0B4A","#6A2A0B","#6F6213","#1E967A","#4E2399","#9B71E0","#E4692B"]},
 "legend": {"orient": "none", "legendX": -8, "legendY": 974, "direction": "horizontal", "columns": 5, "title": "Family", "titleOrient": "left", "titleAnchor": "middle", "titleBaseline": "middle", "titleFontSize": 36, "titleFontWeight": "normal", "titleColor": "black", "titlePadding": 12, "labelFontSize": 32, "labelColor": "black", "labelLimit": 600, "symbolType": "square", "symbolSize": 1369, "symbolStrokeWidth": 0, "symbolOpacity": 1, "labelOffset": 7, "columnPadding": 11, "rowPadding": 4}},
"order": {"field": "stackOrder", "type": "quantitative", "sort": "ascending"}
}
}
}
